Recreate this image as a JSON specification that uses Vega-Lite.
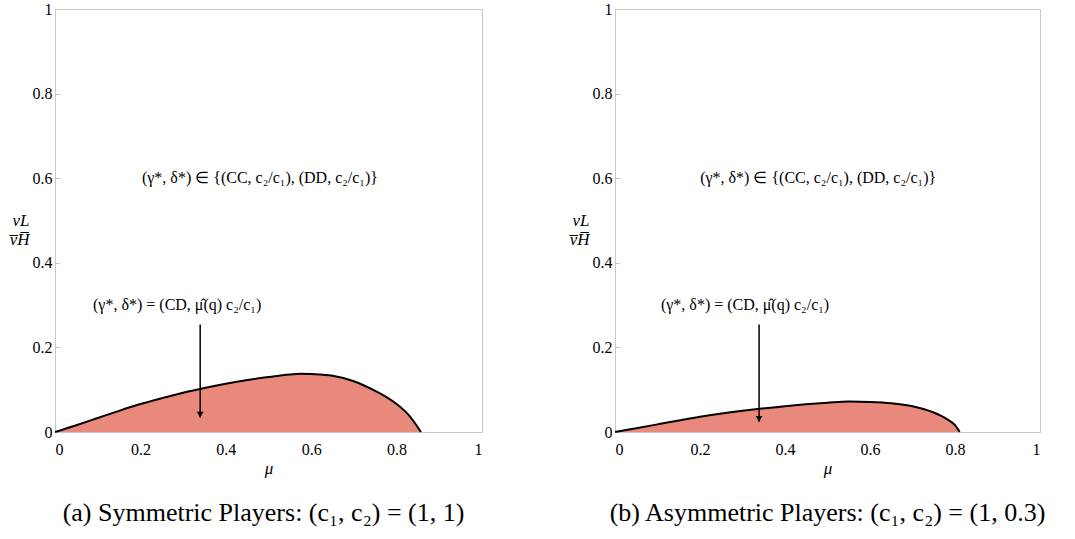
{
  "$schema": "https://vega.github.io/schema/vega-lite/v6.json",
  "background": "white",
  "padding": {"left": 8, "top": 0, "right": 0, "bottom": 0},
  "spacing": 85,
  "datasets": {
    "curveA": [
      {"mu": 0, "v": 0}, {"mu": 0.05, "v": 0.016}, {"mu": 0.1, "v": 0.033}, {"mu": 0.15, "v": 0.05},
      {"mu": 0.2, "v": 0.066}, {"mu": 0.25, "v": 0.08}, {"mu": 0.3, "v": 0.093}, {"mu": 0.35, "v": 0.104},
      {"mu": 0.4, "v": 0.114}, {"mu": 0.45, "v": 0.123}, {"mu": 0.5, "v": 0.13}, {"mu": 0.55, "v": 0.136},
      {"mu": 0.575, "v": 0.138}, {"mu": 0.6, "v": 0.137}, {"mu": 0.65, "v": 0.133}, {"mu": 0.7, "v": 0.12},
      {"mu": 0.75, "v": 0.097}, {"mu": 0.78, "v": 0.08}, {"mu": 0.8, "v": 0.066}, {"mu": 0.83, "v": 0.038},
      {"mu": 0.857, "v": 0}
    ],
    "curveB": [
      {"mu": 0, "v": 0}, {"mu": 0.1, "v": 0.018}, {"mu": 0.2, "v": 0.036}, {"mu": 0.3, "v": 0.05},
      {"mu": 0.4, "v": 0.061}, {"mu": 0.5, "v": 0.069}, {"mu": 0.55, "v": 0.072}, {"mu": 0.6, "v": 0.071},
      {"mu": 0.65, "v": 0.068}, {"mu": 0.7, "v": 0.061}, {"mu": 0.75, "v": 0.046}, {"mu": 0.78, "v": 0.031},
      {"mu": 0.8, "v": 0.016}, {"mu": 0.811, "v": 0}
    ],
    "annA": [
      {"x": 0.48, "y": 0.6, "label": "(γ*, δ*) ∈ {(CC, c₂/c₁), (DD, c₂/c₁)}"},
      {"x": 0.286, "y": 0.3, "label": "(γ*, δ*) = (CD, μ̂(q) c₂/c₁)"}
    ],
    "annB": [
      {"x": 0.478, "y": 0.6, "label": "(γ*, δ*) ∈ {(CC, c₂/c₁), (DD, c₂/c₁)}"},
      {"x": 0.306, "y": 0.3, "label": "(γ*, δ*) = (CD, μ̂(q) c₂/c₁)"}
    ],
    "arrowA": [{"x": 0.34, "y1": 0.254, "y2": 0.034}],
    "arrowB": [{"x": 0.339, "y1": 0.254, "y2": 0.024}]
  },
  "config": {
    "view": {"stroke": "#c8c8c8", "strokeWidth": 1},
    "axis": {
      "labelFont": "Times New Roman, Liberation Serif, serif", "labelFontSize": 16, "labelColor": "black", "format": "~g",
      "domainColor": "#c8c8c8", "tickColor": "#c8c8c8", "tickSize": -5,
      "grid": false, "titleFont": "Times New Roman, Liberation Serif, serif", "titleFontStyle": "italic",
      "titleFontWeight": "normal", "titleFontSize": 17, "titleColor": "black"
    },
    "axisX": {"labelPadding": 14, "titlePadding": 3},
    "axisY": {"labelPadding": 8},
    "title": {"font": "Times New Roman, Liberation Serif, serif", "fontSize": 26, "fontWeight": "normal", "color": "black", "orient": "bottom", "offset": 24}
  },
  "hconcat": [
    {
      "width": 427, "height": 423,
      "title": {"text": "(a) Symmetric Players: (c₁, c₂) = (1, 1)", "dx": -5},
      "layer": [
        {
          "data": {"name": "curveA"},
          "mark": {"type": "area", "color": "#e9897b", "interpolate": "monotone", "opacity": 1},
          "encoding": {
            "x": {"field": "mu", "type": "quantitative", "scale": {"domain": [0, 1]},
                  "axis": {"values": [0, 0.2, 0.4, 0.6, 0.8, 1], "title": "μ", "format": "~g"}},
            "y": {"field": "v", "type": "quantitative", "scale": {"domain": [0, 1]},
                  "axis": {"values": [0, 0.2, 0.4, 0.6, 0.8, 1], "title": ["vL", "v̅H̅"], "titleAngle": 0, "format": "~g",
                           "titleAlign": "right", "titleBaseline": "middle", "titlePadding": -16, "titleLineHeight": 19}}
          }
        },
        {
          "data": {"name": "curveA"},
          "mark": {"type": "line", "color": "black", "strokeWidth": 2, "interpolate": "monotone"},
          "encoding": {"x": {"field": "mu", "type": "quantitative"}, "y": {"field": "v", "type": "quantitative"}}
        },
        {
          "data": {"name": "arrowA"},
          "mark": {"type": "rule", "color": "black", "strokeWidth": 1.5},
          "encoding": {"x": {"field": "x", "type": "quantitative"}, "y": {"field": "y1", "type": "quantitative"}, "y2": {"field": "y2"}}
        },
        {
          "data": {"name": "arrowA"},
          "mark": {"type": "point", "shape": "triangle-down", "filled": true, "color": "black", "size": 45, "opacity": 1, "yOffset": -3},
          "encoding": {"x": {"field": "x", "type": "quantitative"}, "y": {"field": "y2", "type": "quantitative"}}
        },
        {
          "data": {"name": "annA"},
          "mark": {"type": "text", "font": "Times New Roman, Liberation Serif, serif", "fontSize": 16, "color": "black", "align": "center", "baseline": "middle"},
          "encoding": {"x": {"field": "x", "type": "quantitative"}, "y": {"field": "y", "type": "quantitative"}, "text": {"field": "label"}}
        }
      ]
    },
    {
      "width": 425, "height": 423,
      "title": {"text": "(b) Asymmetric Players: (c₁, c₂) = (1, 0.3)"},
      "layer": [
        {
          "data": {"name": "curveB"},
          "mark": {"type": "area", "color": "#e9897b", "interpolate": "monotone", "opacity": 1},
          "encoding": {
            "x": {"field": "mu", "type": "quantitative", "scale": {"domain": [0, 1]},
                  "axis": {"values": [0, 0.2, 0.4, 0.6, 0.8, 1], "title": "μ", "format": "~g"}},
            "y": {"field": "v", "type": "quantitative", "scale": {"domain": [0, 1]},
                  "axis": {"values": [0, 0.2, 0.4, 0.6, 0.8, 1], "title": ["vL", "v̅H̅"], "titleAngle": 0, "format": "~g",
                           "titleAlign": "right", "titleBaseline": "middle", "titlePadding": -16, "titleLineHeight": 19}}
          }
        },
        {
          "data": {"name": "curveB"},
          "mark": {"type": "line", "color": "black", "strokeWidth": 2, "interpolate": "monotone"},
          "encoding": {"x": {"field": "mu", "type": "quantitative"}, "y": {"field": "v", "type": "quantitative"}}
        },
        {
          "data": {"name": "arrowB"},
          "mark": {"type": "rule", "color": "black", "strokeWidth": 1.5},
          "encoding": {"x": {"field": "x", "type": "quantitative"}, "y": {"field": "y1", "type": "quantitative"}, "y2": {"field": "y2"}}
        },
        {
          "data": {"name": "arrowB"},
          "mark": {"type": "point", "shape": "triangle-down", "filled": true, "color": "black", "size": 45, "opacity": 1, "yOffset": -3},
          "encoding": {"x": {"field": "x", "type": "quantitative"}, "y": {"field": "y2", "type": "quantitative"}}
        },
        {
          "data": {"name": "annB"},
          "mark": {"type": "text", "font": "Times New Roman, Liberation Serif, serif", "fontSize": 16, "color": "black", "align": "center", "baseline": "middle"},
          "encoding": {"x": {"field": "x", "type": "quantitative"}, "y": {"field": "y", "type": "quantitative"}, "text": {"field": "label"}}
        }
      ]
    }
  ]
}
